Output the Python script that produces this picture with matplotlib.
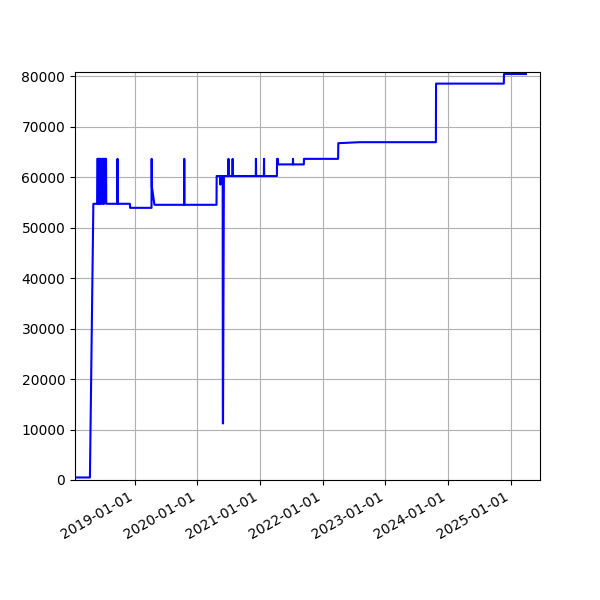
import pandas as pd
import matplotlib
matplotlib.use('Agg')
from matplotlib import pyplot as plt
import matplotlib.dates as mdates

# 数据：日期与数值（尖峰用前后各一天的点表示）
dates = [
    "2018-01-18", "2018-04-15", "2018-05-05",
    # 2018 年中密集波动
    "2018-05-27", "2018-05-28", "2018-06-02", "2018-06-03", "2018-06-05",
    "2018-06-06", "2018-06-09", "2018-06-10", "2018-06-11", "2018-06-15",
    "2018-06-16",
    "2018-06-22", "2018-06-23", "2018-06-29", "2018-06-30", "2018-07-01",
    "2018-07-02", "2018-07-07", "2018-07-08", "2018-07-09", "2018-07-18",
    "2018-07-19",
    "2018-09-22", "2018-09-23", "2018-09-24",
    "2018-12-04", "2018-12-05",
    "2019-04-09", "2019-04-10", "2019-04-11", "2019-04-14", "2019-04-26",
    "2019-10-16", "2019-10-17", "2019-10-18",
    "2020-04-22", "2020-04-23",
    "2020-05-14", "2020-05-15", "2020-05-16",
    "2020-05-28", "2020-05-29", "2020-05-30", "2020-06-04",
    "2020-06-30", "2020-07-01", "2020-07-02",
    "2020-07-24", "2020-07-25", "2020-07-26",
    "2020-12-07", "2020-12-08", "2020-12-09",
    "2021-01-23", "2021-01-24", "2021-01-25",
    "2021-04-09", "2021-04-10", "2021-04-15", "2021-04-16",
    "2021-07-11", "2021-07-12", "2021-07-13",
    "2021-09-13", "2021-09-14",
    "2022-04-01", "2022-04-02", "2022-08-06",
    "2023-10-23", "2023-10-24",
    "2024-11-22", "2024-11-23", "2025-03-31",
]
values = [
    500, 500, 54700,
    54700, 63600, 63600, 54700, 54700,
    63600, 63600, 54700, 63600, 63600,
    54700,
    54700, 63600, 63600, 54700, 54700,
    63600, 63600, 54700, 63600, 63600,
    54700,
    54700, 63600, 54700,
    54700, 53900,
    53900, 63600, 58000, 57500, 54500,
    54500, 63600, 54500,
    54500, 60200,
    60200, 58500, 60200,
    60200, 11200, 11200, 60200,
    60200, 63600, 60200,
    60200, 63600, 60200,
    60200, 63600, 60200,
    60200, 63600, 60200,
    60200, 63600, 63600, 62500,
    62500, 63600, 62500,
    62500, 63600,
    63600, 66700, 66900,
    66900, 78500,
    78500, 80400, 80400,
]

x = pd.to_datetime(dates)

fig = plt.figure(figsize=(6, 6), dpi=100)
ax = fig.add_subplot(111)
ax.plot(x, values, color='blue', linewidth=1.5)

ax.set_xlim(pd.Timestamp("2018-01-18"), pd.Timestamp("2025-06-21"))
ax.set_ylim(0, 80800)
ax.xaxis.set_major_locator(mdates.YearLocator())
ax.xaxis.set_major_formatter(mdates.DateFormatter('%Y-%m-%d'))
ax.grid(True)
fig.autofmt_xdate()

plt.savefig('out.png')
